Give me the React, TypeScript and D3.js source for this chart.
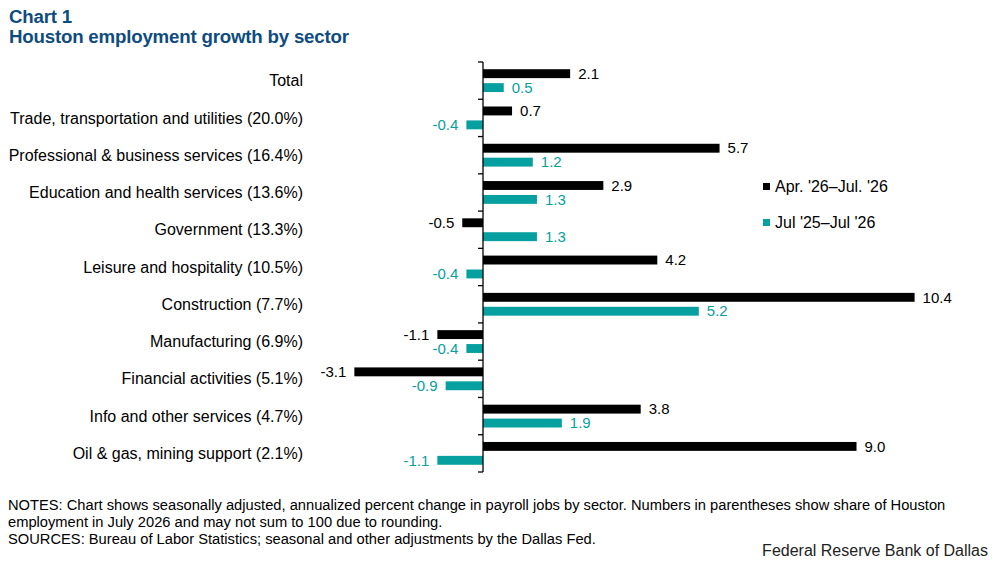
import React from 'react';
import * as d3 from 'd3';

const categories = [
  'Total',
  'Trade, transportation and utilities (20.0%)',
  'Professional & business services (16.4%)',
  'Education and health services (13.6%)',
  'Government (13.3%)',
  'Leisure and hospitality (10.5%)',
  'Construction (7.7%)',
  'Manufacturing (6.9%)',
  'Financial activities (5.1%)',
  'Info and other services (4.7%)',
  'Oil & gas, mining support (2.1%)',
];

const seriesNames = ["Apr. '26\u2013Jul. '26", "Jul '25\u2013Jul '26"];
const threeMonth = [2.1, 0.7, 5.7, 2.9, -0.5, 4.2, 10.4, -1.1, -3.1, 3.8, 9.0];
const yearOverYear = [0.5, -0.4, 1.2, 1.3, 1.3, -0.4, 5.2, -0.4, -0.9, 1.9, -1.1];

const colors = ['#000000', '#06a0a0'];
const titleColor = '#0e4c80';
const W = 997;
const H = 565;
const font = 'Arial, "Liberation Sans", sans-serif';

export default function App() {
  const x = d3.scaleLinear().domain([-4, 12]).range([317, 981]);
  const y = d3.scaleBand<string>().domain(categories).range([62, 472]);
  const sub = d3
    .scaleBand<number>()
    .domain([0, 1])
    .range([0, y.bandwidth()])
    .paddingInner(0.36)
    .paddingOuter(0.52);

  const series = [threeMonth, yearOverYear];
  const x0 = x(0);
  const boundaries = categories.map((c) => y(c) as number).concat([472]);

  return (
    <svg
      width={W}
      height={H}
      style={{ position: 'absolute', left: 0, top: 0, background: '#fff' }}
      fontFamily={font}
    >
      <text x={9} y={23} fontSize={18.7} fontWeight="bold" fill={titleColor} letterSpacing={-0.2}>
        Chart 1
      </text>
      <text x={9} y={43} fontSize={18.7} fontWeight="bold" fill={titleColor} letterSpacing={-0.2}>
        Houston employment growth by sector
      </text>

      {categories.map((c) => (
        <text
          key={c}
          x={303}
          y={(y(c) as number) + y.bandwidth() / 2}
          dy="0.35em"
          textAnchor="end"
          fontSize={16}
          fill="#000"
        >
          {c}
        </text>
      ))}

      {series.map((vals, si) =>
        vals.map((v, i) => {
          const c = categories[i];
          const top = (y(c) as number) + (sub(si) as number);
          const bx = Math.min(x(v), x0);
          const bw = Math.abs(x(v) - x0);
          const pos = v >= 0;
          return (
            <g key={`${si}-${i}`}>
              <rect x={bx} y={top} width={bw} height={sub.bandwidth()} fill={colors[si]} />
              <text
                x={pos ? x(v) + 8 : x(v) - 8}
                y={top + sub.bandwidth() / 2}
                dy="0.35em"
                textAnchor={pos ? 'start' : 'end'}
                fontSize={15}
                fill={colors[si]}
              >
                {v.toFixed(1)}
              </text>
            </g>
          );
        })
      )}

      <line x1={x0} x2={x0} y1={62} y2={472} stroke="#000" strokeWidth={1.3} />
      {boundaries.map((b, i) => (
        <line key={i} x1={x0 - 5} x2={x0} y1={b} y2={b} stroke="#000" strokeWidth={1.3} />
      ))}

      {seriesNames.map((s, i) => (
        <g key={s} transform={`translate(763,${186 + i * 36})`}>
          <rect x={0} y={-3} width={7} height={7} fill={colors[i]} />
          <text x={12} y={0} dy="0.35em" fontSize={16} fill="#000">
            {s}
          </text>
        </g>
      ))}

      <text x={8} y={510} fontSize={14.7} fill="#000">
        NOTES: Chart shows seasonally adjusted, annualized percent change in payroll jobs by sector. Numbers in parentheses show share of Houston
      </text>
      <text x={8} y={527} fontSize={14.7} fill="#000">
        employment in July 2026 and may not sum to 100 due to rounding.
      </text>
      <text x={8} y={544} fontSize={14.7} fill="#000">
        SOURCES: Bureau of Labor Statistics; seasonal and other adjustments by the Dallas Fed.
      </text>
      <text x={988} y={556} textAnchor="end" fontSize={16} fill="#222">
        Federal Reserve Bank of Dallas
      </text>
    </svg>
  );
}
